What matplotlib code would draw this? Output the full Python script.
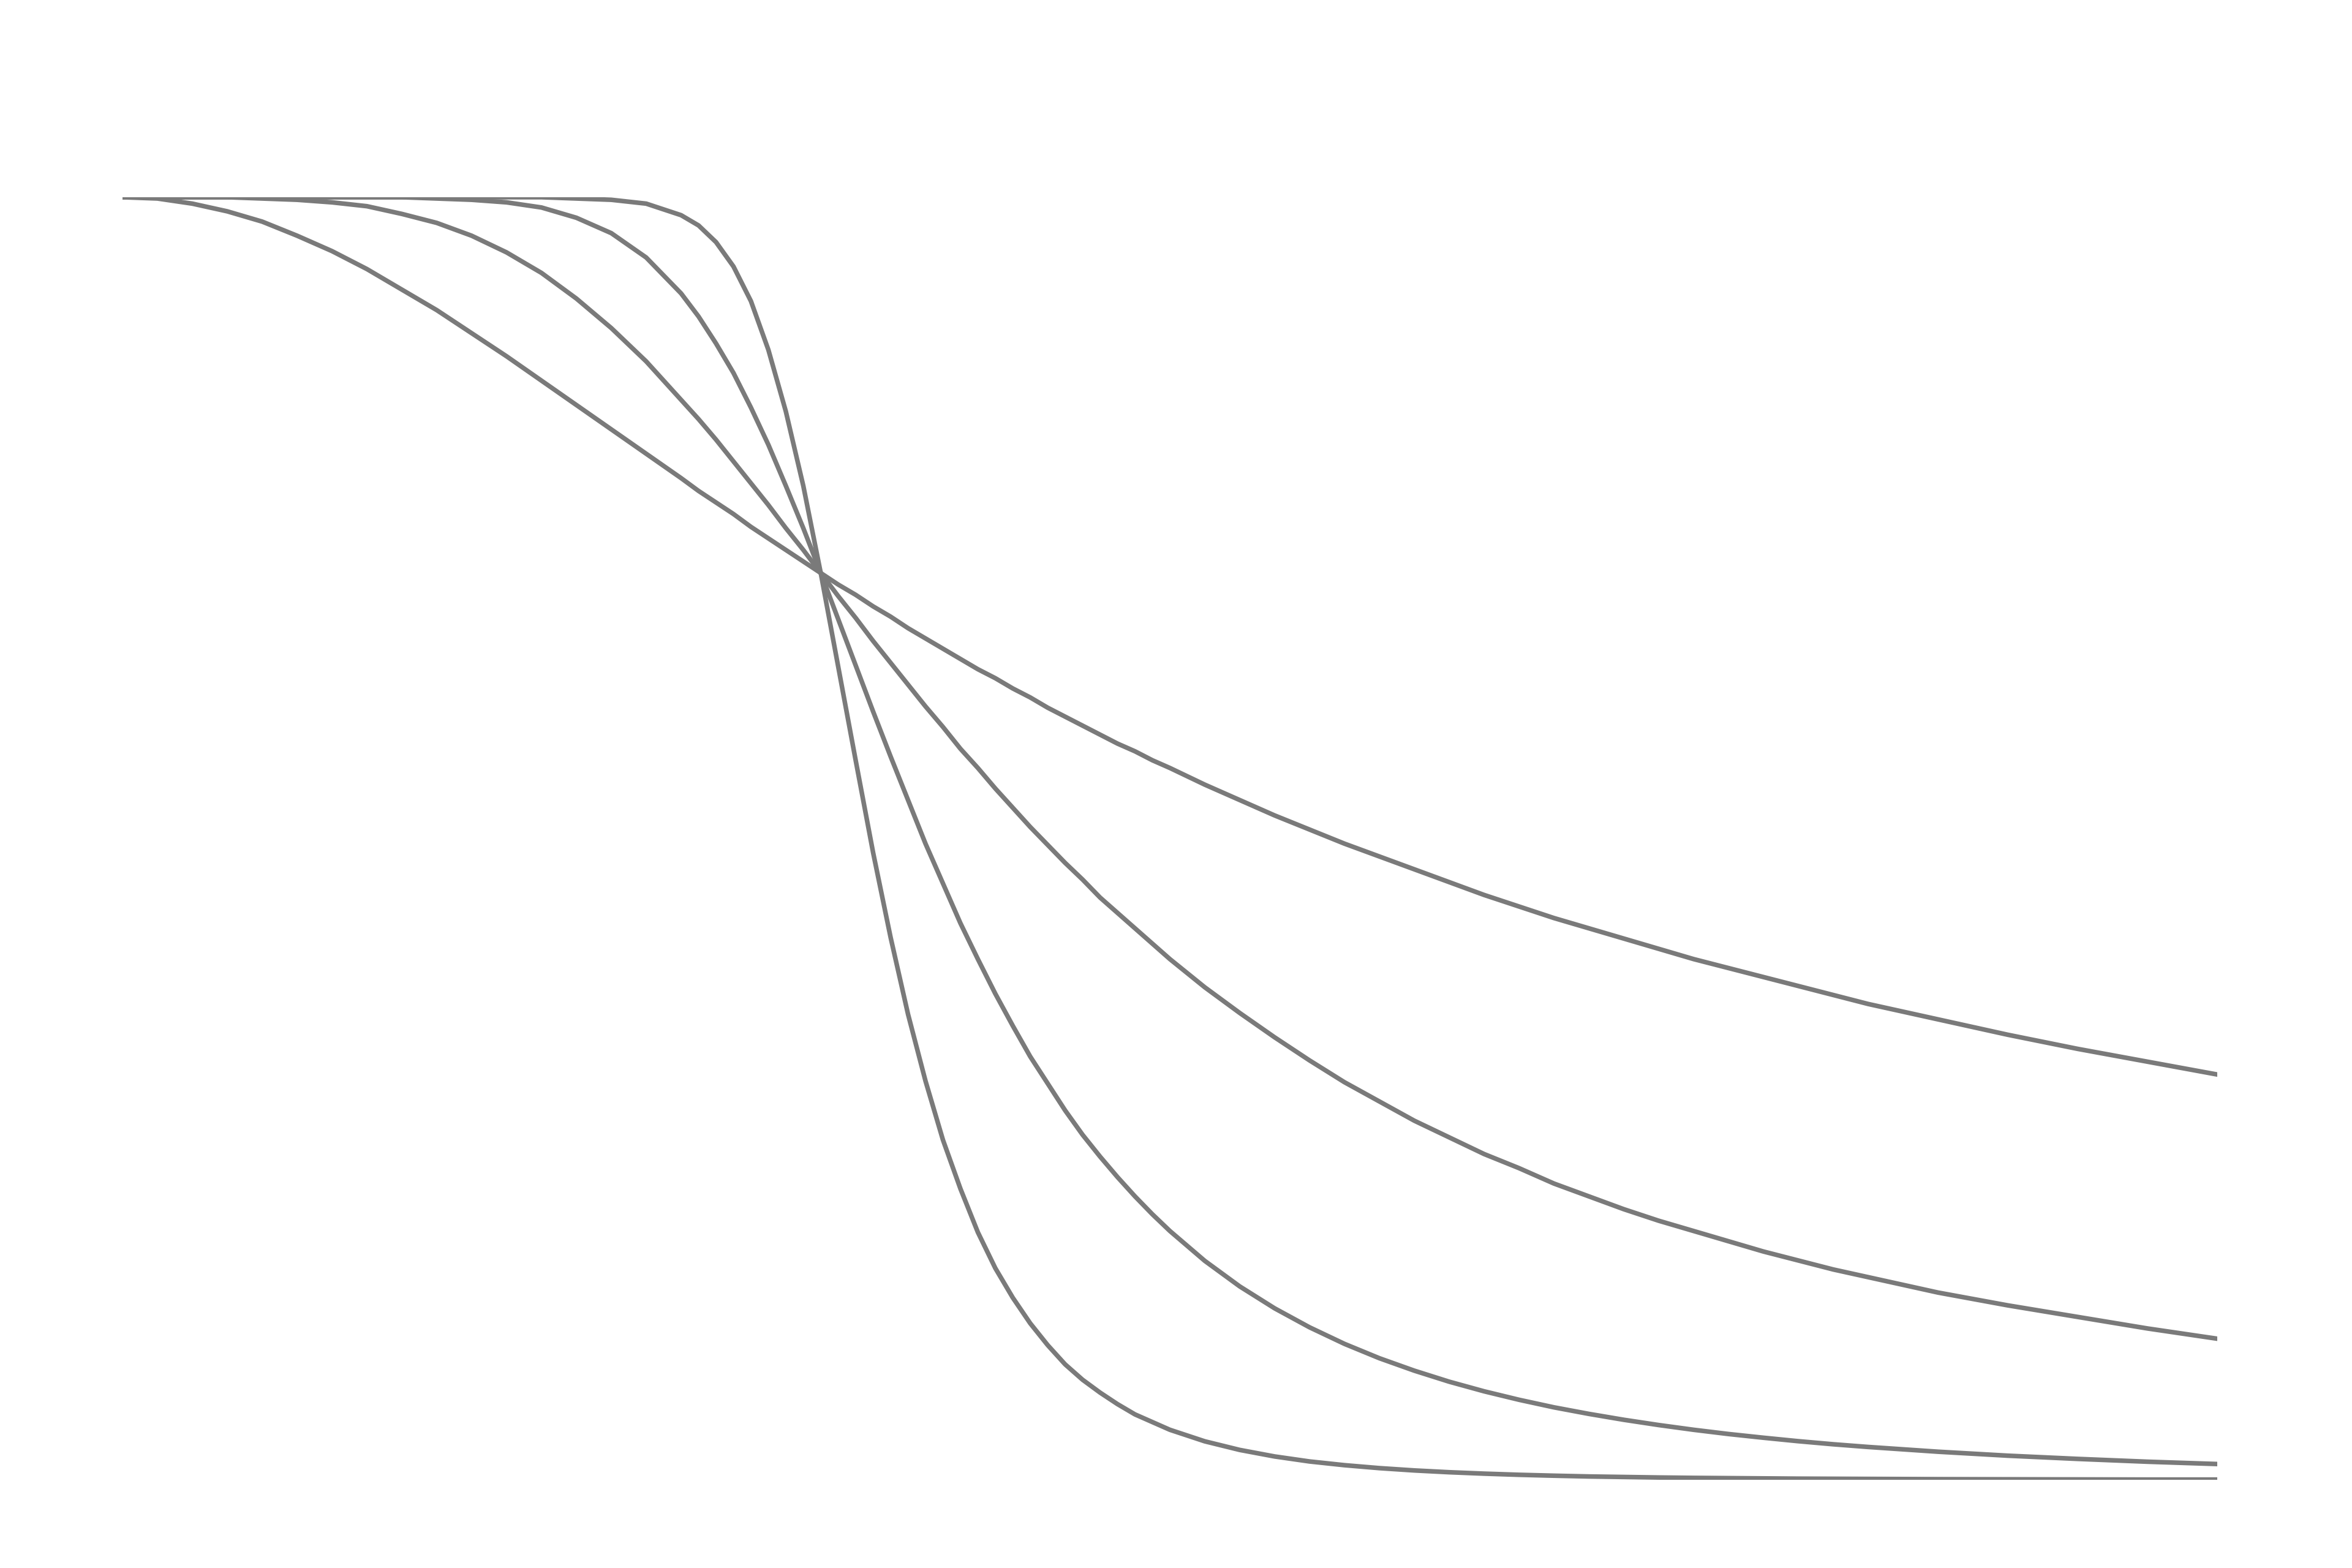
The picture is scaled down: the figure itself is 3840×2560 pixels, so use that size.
import matplotlib
matplotlib.use("Agg")
import matplotlib.pyplot as plt

# normalised frequency (shared by all four curves)
freq = [0.0, 0.05, 0.1, 0.15, 0.2, 0.25, 0.3, 0.35, 0.4, 0.45, 0.5, 0.55, 0.6,
        0.65, 0.7, 0.75, 0.8,
        0.825, 0.85, 0.875, 0.9, 0.925, 0.95, 0.975, 1.0, 1.025, 1.05, 1.075,
        1.1, 1.125, 1.15, 1.175, 1.2, 1.225, 1.25, 1.275, 1.3,
        1.325, 1.35, 1.375, 1.4, 1.425, 1.45, 1.475, 1.5,
        1.55, 1.6, 1.65, 1.7, 1.75, 1.8, 1.85, 1.9, 1.95, 2.0, 2.05, 2.1,
        2.15, 2.2, 2.25, 2.3, 2.35, 2.4, 2.45, 2.5,
        2.6, 2.7, 2.8, 2.9, 3.0]

# gain, gentlest roll-off first
gain_1 = [1.000, 0.999, 0.995, 0.989, 0.981, 0.970, 0.958, 0.944, 0.928, 0.912,
          0.894, 0.876, 0.857, 0.838, 0.819, 0.800, 0.781,
          0.771, 0.762, 0.753, 0.743, 0.734, 0.725, 0.716, 0.707, 0.698, 0.690,
          0.681, 0.673, 0.664, 0.656, 0.648, 0.640, 0.632, 0.625, 0.617, 0.610,
          0.602, 0.595, 0.588, 0.581, 0.574, 0.568, 0.561, 0.555,
          0.542, 0.530, 0.518, 0.507, 0.496, 0.486, 0.476, 0.466, 0.456, 0.447,
          0.438, 0.430, 0.422, 0.414, 0.406, 0.399, 0.392, 0.385, 0.378, 0.371,
          0.359, 0.347, 0.336, 0.326, 0.316]
gain_2 = [1.000, 1.000, 1.000, 1.000, 0.999, 0.998, 0.996, 0.993, 0.987, 0.980,
          0.970, 0.957, 0.941, 0.921, 0.898, 0.872, 0.842,
          0.827, 0.811, 0.794, 0.777, 0.760, 0.742, 0.725, 0.707, 0.689, 0.672,
          0.654, 0.637, 0.620, 0.603, 0.587, 0.570, 0.555, 0.539, 0.524, 0.509,
          0.495, 0.481, 0.468, 0.454, 0.442, 0.430, 0.418, 0.406,
          0.384, 0.364, 0.345, 0.327, 0.310, 0.295, 0.280, 0.267, 0.254, 0.243,
          0.231, 0.221, 0.211, 0.202, 0.194, 0.186, 0.178, 0.171, 0.164, 0.158,
          0.146, 0.136, 0.127, 0.118, 0.110]
gain_4 = [1.000, 1.000, 1.000, 1.000, 1.000, 1.000, 1.000, 1.000, 1.000, 0.999,
          0.998, 0.996, 0.992, 0.984, 0.972, 0.953, 0.925,
          0.907, 0.886, 0.863, 0.836, 0.807, 0.775, 0.742, 0.707, 0.671, 0.635,
          0.599, 0.564, 0.530, 0.496, 0.465, 0.434, 0.406, 0.379, 0.354, 0.330,
          0.309, 0.288, 0.269, 0.252, 0.236, 0.221, 0.207, 0.194,
          0.1707, 0.1508, 0.1337, 0.1189, 0.1060, 0.0948, 0.0851, 0.0765,
          0.0690, 0.0624, 0.0565, 0.0514, 0.0468, 0.0427, 0.0390, 0.0357,
          0.0328, 0.0301, 0.0277, 0.0256,
          0.0219, 0.0188, 0.0163, 0.0141, 0.0123]
gain_8 = [1.000, 1.000, 1.000, 1.000, 1.000, 1.000, 1.000, 1.000, 1.000, 1.000,
          1.000, 1.000, 1.000, 0.999, 0.998, 0.995, 0.986,
          0.978, 0.965, 0.946, 0.919, 0.881, 0.833, 0.775, 0.707, 0.634, 0.561,
          0.489, 0.423, 0.363, 0.311, 0.265, 0.227, 0.193, 0.165, 0.142, 0.122,
          0.105, 0.090, 0.078, 0.068, 0.059, 0.051, 0.045, 0.039,
          0.0300, 0.0233, 0.0182, 0.0143, 0.0114, 0.0091, 0.0073, 0.0059,
          0.0048, 0.0039, 0.0032, 0.0026, 0.0022, 0.0018, 0.0015, 0.0013,
          0.0011, 0.0009, 0.0008, 0.0007,
          0.0005, 0.0004, 0.0003, 0.0002, 0.0002]

fig = plt.figure(figsize=(12.8, 2560 / 300), dpi=300)
ax = fig.add_axes([200 / 3840, 144 / 2560, 3420 / 3840, 2094 / 2560])

for g in (gain_1, gain_2, gain_4, gain_8):
    ax.plot(freq, g, color="#7a7a7a", lw=1.8, solid_capstyle="round",
            solid_joinstyle="round")

ax.set_xlim(0, 3)
ax.set_ylim(0, 1)
ax.axis("off")

fig.savefig("out.png", dpi=300, facecolor="white")
